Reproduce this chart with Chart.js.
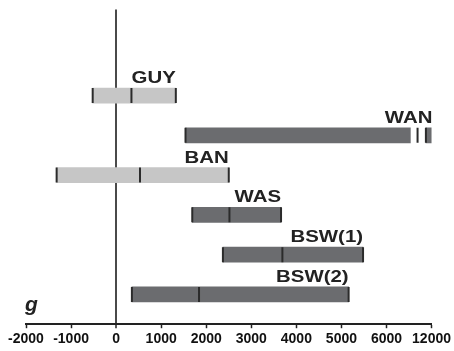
<!DOCTYPE html>
<html>
<head>
<meta charset="utf-8">
<script src="https://cdn.jsdelivr.net/npm/chart.js@4.4.1/dist/chart.umd.min.js"></script>
<style>
  body { margin: 0; background: #fff; }
</style>
</head>
<body>
<canvas id="rangeChart" width="454" height="351"></canvas>
<script>
// values (axis units; right of 6000 the axis is broken to 12000)
var categories = ['GUY', 'WAN', 'BAN', 'WAS', 'BSW(1)', 'BSW(2)'];
var lows    = [-520, 1540, -1320, 1690, 2370, 350];
var medians = [340, null, 530, 2515, 3690, 1840];
var highs   = [1325, 7020, 2500, 3660, 5480, 5160];
var shades  = ['light', 'dark', 'light', 'dark', 'dark', 'dark'];
// WAN axis break: end of first piece, break mark, start of last piece
var wanBreak = [6530, 6690, 6875];
var tickLabels = ['-2000', '-1000', '0', '1000', '2000', '3000', '4000', '5000', '6000', '12000'];

var barColor = { light: '#c6c6c6', dark: '#6b6c6f' };
var lineColor = '#2b2b2b';

var bars = [];
var barColors = [];
var marks = [];
for (let i = 0; i < categories.length; i++) {
   if (categories[i] === 'WAN') {
      bars.push({ x: [lows[i], wanBreak[0]], y: i });
      bars.push({ x: [wanBreak[2], highs[i]], y: i });
      barColors.push(barColor[shades[i]], barColor[shades[i]]);
      marks.push({ x: lows[i], y: i }, { x: wanBreak[1], y: i }, { x: wanBreak[2], y: i });
   } else {
      bars.push({ x: [lows[i], highs[i]], y: i });
      barColors.push(barColor[shades[i]]);
      marks.push({ x: lows[i], y: i }, { x: highs[i], y: i });
      if (medians[i] !== null) marks.push({ x: medians[i], y: i });
   }
}

var labelPlugin = {
   id: 'barLabels',
   afterDatasetsDraw(chart) {
      var ctx = chart.ctx;
      var xs = chart.scales.x, ys = chart.scales.y;
      ctx.save();
      ctx.fillStyle = '#222';
      ctx.font = 'bold 17px "Liberation Sans", Arial, sans-serif';
      ctx.textAlign = 'right';
      ctx.textBaseline = 'alphabetic';
      for (let i = 0; i < categories.length; i++) {
         var px = xs.getPixelForValue(highs[i]);
         var py = ys.getPixelForValue(i) - 7.5 - 5;
         ctx.save();
         ctx.translate(px, py);
         ctx.scale(1.2, 1);
         ctx.fillText(categories[i], 0, 0);
         ctx.restore();
      }
      ctx.font = 'bold italic 21px "Liberation Sans", Arial, sans-serif';
      ctx.textAlign = 'left';
      ctx.fillText('g', 25, 311);
      ctx.restore();
   }
};

var ctx = document.getElementById('rangeChart').getContext('2d');

new Chart(ctx, {
   type: 'bar',
   data: {
      datasets: [{
         type: 'scatter',
         data: marks,
         order: 0,
         pointStyle: 'line',
         pointRotation: 90,
         pointRadius: 7.5,
         pointHoverRadius: 7.5,
         pointBorderWidth: 2,
         pointBorderColor: lineColor,
         pointBackgroundColor: lineColor
      }, {
         type: 'bar',
         data: bars,
         order: 1,
         backgroundColor: barColors,
         borderWidth: 0,
         barThickness: 15
      }]
   },
   plugins: [labelPlugin],
   options: {
      indexAxis: 'y',
      responsive: false,
      animation: false,
      layout: { padding: { left: 26, right: 20, top: 8, bottom: 0 } },
      plugins: { legend: { display: false }, tooltip: { enabled: false } },
      scales: {
         x: {
            type: 'linear',
            min: -2000,
            max: 7000,
            offset: false,
            border: { display: true, color: '#222', width: 2 },
            grid: {
               offset: false,
               drawOnChartArea: true,
               color: c => (c.tick && c.tick.value === 0) ? '#4a4a4a' : 'rgba(0,0,0,0)',
               lineWidth: c => (c.tick && c.tick.value === 0) ? 2 : 1,
               tickLength: 4,
               tickColor: '#222',
               tickWidth: 1.5
            },
            ticks: {
               stepSize: 1000,
               autoSkip: false,
               maxRotation: 0,
               padding: 3,
               color: '#111',
               font: { family: '"Liberation Sans", Arial, sans-serif', size: 14, weight: 'bold' },
               callback: v => tickLabels[(v + 2000) / 1000]
            }
         },
         y: {
            type: 'linear',
            reverse: true,
            offset: false,
            grid: { offset: false },
            min: -2.166,
            max: 5.75,
            display: false
         }
      }
   }
});
</script>
</body>
</html>
